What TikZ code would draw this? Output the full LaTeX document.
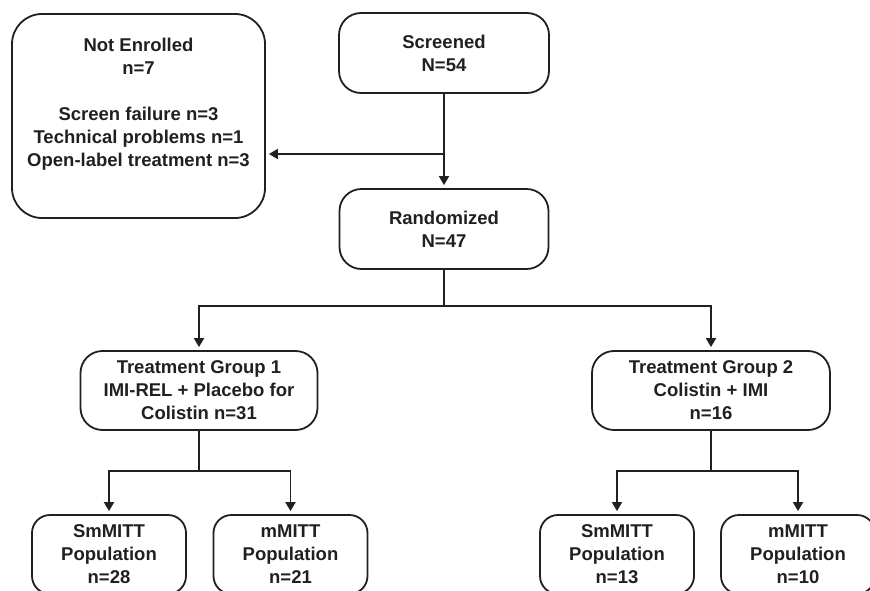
\documentclass[tikz,border=0pt]{standalone}
\usepackage{fontspec}
\setmainfont{Liberation Sans}
\usetikzlibrary{arrows.meta}
\definecolor{linec}{HTML}{231F20}
\definecolor{txtc}{HTML}{231F20}
\newcommand\txtfont{\fontsize{18.5}{23}\selectfont\bfseries}
\begin{document}
\begin{tikzpicture}[x=1pt,y=-1pt,
  box/.style={draw=linec, line width=1.8pt, rounded corners=22pt, inner sep=0pt, align=center, font=\txtfont, text=txtc},
  small/.style={box, rounded corners=18pt, minimum width=154pt, minimum height=79pt},
  arr/.style={draw=linec, line width=1.8pt, -{Triangle[width=10pt,length=9pt]}, shorten >=3pt},
  lbl/.style={font=\txtfont, text=txtc, align=center, inner sep=0pt}]
\useasboundingbox (0,0) rectangle (870,591);
\clip (0,0) rectangle (870,591);

\node[box, minimum width=253pt, minimum height=204pt, rounded corners=30pt] (ne) at (138.5,116) {};
\node[lbl] (net) at (138.5,104) {Not Enrolled\\n=7\\[23pt]Screen failure n=3\\Technical problems n=1\\Open-label treatment n=3};

\node[box, minimum width=210pt, minimum height=80pt] (scr) at (444,53) {Screened\\N=54};
\node[box, minimum width=209pt, minimum height=80pt] (ran) at (444,229) {Randomized\\N=47};

\node[box, minimum width=237pt, minimum height=79pt] (tg1) at (199,390.5) {Treatment Group 1\\IMI-REL + Placebo for\\Colistin n=31};
\node[box, minimum width=238pt, minimum height=79pt] (tg2) at (711,390.5) {Treatment Group 2\\Colistin + IMI\\n=16};

\node[small] (sm1) at (109,554.5) {SmMITT\\Population\\n=28};
\node[small] (m1) at (290.5,554.5) {mMITT\\Population\\n=21};
\node[small] (sm2) at (617,554.5) {SmMITT\\Population\\n=13};
\node[small] (m2) at (798,554.5) {mMITT\\Population\\n=10};

\coordinate (j1) at (444,154);
\draw[arr] (scr.south) -- (ran.north);
\draw[arr] (j1) -- (ne.east |- j1);

\coordinate (j2) at (444,306);
\draw[arr] (ran.south) -- (j2) -| (tg1.north);
\draw[arr] (j2) -| (tg2.north);

\path (tg1.south) ++(0,40) coordinate (j3);
\draw[arr] (tg1.south) -- (j3) -| (sm1.north);
\draw[arr] (j3) -| (m1.north);

\path (tg2.south) ++(0,40) coordinate (j4);
\draw[arr] (tg2.south) -- (j4) -| (sm2.north);
\draw[arr] (j4) -| (m2.north);
\end{tikzpicture}
\end{document}
